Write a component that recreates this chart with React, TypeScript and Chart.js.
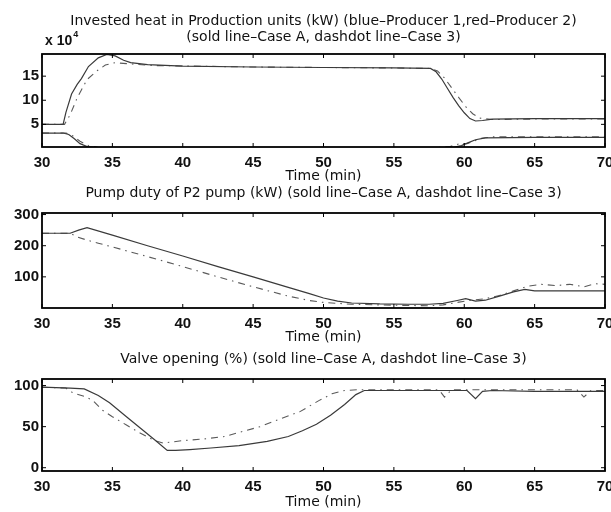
import React, { useEffect, useRef } from "react";
import { Chart, registerables } from "chart.js";

Chart.register(...registerables);

// ---------- shared axis ----------
const X_TICKS = [30, 35, 40, 45, 50, 55, 60, 65, 70];

// ---------- Panel 1: invested heat (x 10^4 kW) ----------
const HEAT_Y_TICKS = [5, 10, 15];
const heatP1CaseATime = [30, 31.5, 31.7, 32.1, 32.5, 32.8, 33.3, 34.0, 34.6, 35.2, 35.8, 36.3, 37.5, 40, 45, 50, 55, 57.6, 58.0, 58.4, 58.8, 59.2, 59.6, 60.0, 60.4, 60.8, 61.3, 62.0, 65, 70];
const heatP1CaseA = [5.0, 5.0, 7.5, 11.3, 13.3, 14.5, 17.0, 18.8, 19.5, 19.2, 18.3, 17.8, 17.4, 17.1, 16.9, 16.8, 16.7, 16.6, 15.9, 14.4, 12.5, 10.6, 8.9, 7.4, 6.2, 5.7, 5.8, 6.1, 6.2, 6.2];
const heatP1Case3Time = [30, 31.6, 32.0, 32.5, 33.2, 33.9, 34.5, 35.2, 36.0, 38, 45, 50, 55, 57.6, 58.1, 58.6, 59.1, 59.6, 60.1, 60.6, 61.1, 62.0, 65, 70];
const heatP1Case3 = [5.0, 5.0, 7.0, 10.5, 14.3, 16.1, 17.3, 17.8, 17.6, 17.2, 16.9, 16.8, 16.7, 16.6, 16.1, 14.6, 12.6, 10.6, 8.7, 7.2, 6.3, 6.0, 6.1, 6.1];
const heatP2CaseATime = [30, 31.5, 31.9, 32.3, 32.7, 33.2, 34, 45, 58.5, 59.3, 59.8, 60.3, 60.8, 61.5, 65, 70];
const heatP2CaseA = [3.2, 3.2, 2.9, 2.0, 1.0, 0.4, 0.2, 0.2, 0.2, 0.3, 0.6, 1.2, 1.8, 2.2, 2.3, 2.3];
const heatP2Case3Time = [30, 31.7, 32.2, 32.7, 33.3, 34, 58, 59, 59.7, 60.2, 60.6, 61.2, 62, 70];
const heatP2Case3 = [3.2, 3.2, 2.6, 1.5, 0.6, 0.2, 0.2, 0.4, 1.0, 1.0, 1.4, 2.1, 2.4, 2.4];

// ---------- Panel 2: pump duty of P2 pump (kW) ----------
const PUMP_Y_TICKS = [100, 200, 300];
const pumpCaseATime = [30, 32.0, 32.6, 33.2, 35, 37.5, 40, 42.5, 45, 47.5, 49, 50, 51, 52, 54, 56, 57.5, 58.5, 59.5, 60.1, 60.8, 61.5, 62.5, 63.5, 64.3, 65, 67, 70];
const pumpCaseA = [240, 240, 250, 258, 234, 200, 167, 133, 100, 66, 46, 32, 22, 16, 13, 12, 12, 15, 24, 30, 22, 25, 38, 52, 60, 55, 55, 55];
const pumpCase3Time = [30, 32.0, 32.5, 33.2, 34, 35, 37.5, 40, 42.5, 45, 47.5, 49, 50, 52, 55, 57.5, 58.5, 59.5, 60.5, 61.5, 62.5, 63.5, 64.5, 65.5, 66.5, 67.5, 68.5, 69.3, 70];
const pumpCase3 = [240, 240, 228, 218, 208, 196, 165, 133, 100, 68, 38, 24, 18, 12, 9, 7, 10, 18, 25, 30, 40, 55, 70, 76, 72, 76, 68, 78, 76];

// ---------- Panel 3: valve opening (%) ----------
const VALVE_Y_TICKS = [0, 50, 100];
const valveCaseATime = [30, 32.0, 33.0, 34.0, 34.8, 36, 37, 38, 38.9, 39.5, 40.5, 42, 44, 46, 47.5, 48.5, 49.5, 50.5, 51.5, 52.3, 52.9, 55, 60.2, 60.8, 61.3, 62, 65, 70];
const valveCaseA = [98, 97, 96, 88, 79, 62, 48, 34, 21, 21, 22, 24, 27, 32, 38, 45, 53, 64, 77, 89, 94, 94, 94, 84, 93, 94, 93, 93];
const valveCase3Time = [30, 31.7, 32.2, 33.0, 33.6, 34.3, 35, 36, 37, 38, 38.6, 40, 41.5, 43, 44, 45.5, 47, 48.3, 49.7, 50.6, 51.5, 52.5, 58.2, 58.6, 59.1, 68.0, 68.5, 69.0, 70];
const valveCase3 = [98, 97, 91, 87, 82, 70, 62, 52, 42, 33, 30, 33, 35, 38, 43, 50, 60, 68, 82, 90, 94, 95, 95, 86, 95, 95, 86, 94, 94];

const TICK_FONT = "'Liberation Sans', Arial, Helvetica, sans-serif";
const TEXT_FONT = "'DejaVu Sans', 'Liberation Sans', sans-serif";
const W = 611;
const H = 512;
const PLOT_LEFT = 42;
const PLOT_RIGHT = 605;

const xy = (ts: number[], vs: number[]) => ts.map((t, i) => ({ x: t, y: vs[i] }));

const solid = (label: string, ts: number[], vs: number[]) => ({
  label,
  data: xy(ts, vs),
  borderColor: "#3a3a3a",
  borderWidth: 1.2,
  pointRadius: 0,
  fill: false,
  tension: 0,
});
const dashdot = (label: string, ts: number[], vs: number[]) => ({
  label,
  data: xy(ts, vs),
  borderColor: "#5a5a5a",
  borderWidth: 1.1,
  borderDash: [7, 5, 1.5, 5],
  pointRadius: 0,
  fill: false,
  tension: 0,
});

const framePlugin = {
  id: "frame",
  afterDraw(chart: any, _args: any, opts: any) {
    const ctx = chart.ctx;
    const { left, right, top, bottom } = chart.chartArea;
    const xs = chart.scales.x;
    const ys = chart.scales.y;
    ctx.save();
    ctx.strokeStyle = "#000";
    ctx.lineWidth = 1.8;
    ctx.strokeRect(left, top, right - left, bottom - top);
    ctx.lineWidth = 1;
    const tl = 4;
    ctx.beginPath();
    X_TICKS.forEach((v) => {
      const px = xs.getPixelForValue(v);
      ctx.moveTo(px, bottom);
      ctx.lineTo(px, bottom - tl);
      ctx.moveTo(px, top);
      ctx.lineTo(px, top + tl);
    });
    (opts.yTicks || []).forEach((v: number) => {
      const py = ys.getPixelForValue(v);
      ctx.moveTo(left, py);
      ctx.lineTo(left + tl, py);
      ctx.moveTo(right, py);
      ctx.lineTo(right - tl, py);
    });
    ctx.stroke();

    ctx.fillStyle = "#111";
    ctx.textAlign = "center";
    ctx.textBaseline = "middle";
    ctx.font = `14px ${TEXT_FONT}`;
    const cx = (left + right) / 2;
    (opts.titles || []).forEach((t: { text: string; y: number }) => {
      ctx.fillText(t.text, cx, t.y);
    });
    if (opts.exponent) {
      ctx.textAlign = "left";
      ctx.font = `bold 14px ${TICK_FONT}`;
      ctx.fillText("x 10", 45, 41);
      const w = ctx.measureText("x 10").width;
      ctx.font = `bold 9px ${TICK_FONT}`;
      ctx.fillText("4", 45 + w + 1, 35);
    }
    ctx.restore();
  },
};

type Spec = {
  datasets: any[];
  yMin: number;
  yMax: number;
  yTicks: number[];
  titles: { text: string; y: number }[];
  exponent?: boolean;
  plotTop: number;
  plotBottom: number;
  axisBottom: number;
};

function makeConfig(s: Spec): any {
  return {
    type: "line",
    data: { datasets: s.datasets },
    plugins: [framePlugin],
    options: {
      animation: false,
      responsive: false,
      devicePixelRatio: 1,
      layout: { padding: { top: s.plotTop, bottom: H - s.axisBottom, left: 0, right: W - PLOT_RIGHT } },
      plugins: {
        legend: { display: false },
        title: { display: false },
        tooltip: { enabled: false },
        frame: { titles: s.titles, exponent: s.exponent, yTicks: s.yTicks },
      },
      scales: {
        x: {
          type: "linear",
          min: 30,
          max: 70,
          afterBuildTicks: (sc: any) => {
            sc.ticks = X_TICKS.map((v) => ({ value: v }));
          },
          afterFit: (sc: any) => {
            sc.height = s.axisBottom - s.plotBottom;
            sc.paddingLeft = 0;
            sc.paddingRight = 0;
          },
          grid: { display: false, drawTicks: false },
          border: { display: false },
          ticks: {
            padding: 7,
            color: "#111",
            maxRotation: 0,
            autoSkip: false,
            font: { family: TICK_FONT, size: 15, weight: "bold" },
          },
          title: {
            display: true,
            text: "Time (min)",
            color: "#111",
            padding: { top: 0, bottom: 0 },
            font: { family: TEXT_FONT, size: 14 },
          },
        },
        y: {
          type: "linear",
          min: s.yMin,
          max: s.yMax,
          afterBuildTicks: (sc: any) => {
            sc.ticks = s.yTicks.map((v) => ({ value: v }));
          },
          afterFit: (sc: any) => {
            sc.width = PLOT_LEFT;
            sc.paddingTop = 0;
            sc.paddingBottom = 0;
          },
          grid: { display: false, drawTicks: false },
          border: { display: false },
          ticks: {
            padding: 3,
            color: "#111",
            font: { family: TICK_FONT, size: 15, weight: "bold" },
          },
        },
      },
    },
  };
}

const specs: Spec[] = [
  {
    datasets: [
      solid("Producer 1 – Case A", heatP1CaseATime, heatP1CaseA),
      dashdot("Producer 1 – Case 3", heatP1Case3Time, heatP1Case3),
      solid("Producer 2 – Case A", heatP2CaseATime, heatP2CaseA),
      dashdot("Producer 2 – Case 3", heatP2Case3Time, heatP2Case3),
    ],
    yMin: 0.3,
    yMax: 19.6,
    yTicks: HEAT_Y_TICKS,
    titles: [
      { text: "Invested heat in Production units (kW) (blue–Producer 1,red–Producer 2)", y: 21 },
      { text: "(sold line–Case A, dashdot line–Case 3)", y: 37 },
    ],
    exponent: true,
    plotTop: 54,
    plotBottom: 147,
    axisBottom: 185,
  },
  {
    datasets: [
      solid("Case A", pumpCaseATime, pumpCaseA),
      dashdot("Case 3", pumpCase3Time, pumpCase3),
    ],
    yMin: 0,
    yMax: 305,
    yTicks: PUMP_Y_TICKS,
    titles: [{ text: "Pump duty of P2 pump (kW) (sold line–Case A, dashdot line–Case 3)", y: 193 }],
    plotTop: 213,
    plotBottom: 308,
    axisBottom: 346,
  },
  {
    datasets: [
      solid("Case A", valveCaseATime, valveCaseA),
      dashdot("Case 3", valveCase3Time, valveCase3),
    ],
    yMin: -4,
    yMax: 108,
    yTicks: VALVE_Y_TICKS,
    titles: [{ text: "Valve opening (%) (sold line–Case A, dashdot line–Case 3)", y: 359 }],
    plotTop: 379,
    plotBottom: 471,
    axisBottom: 511,
  },
];

export default function App() {
  const r0 = useRef<HTMLCanvasElement>(null);
  const r1 = useRef<HTMLCanvasElement>(null);
  const r2 = useRef<HTMLCanvasElement>(null);

  useEffect(() => {
    const refs = [r0, r1, r2];
    const charts = refs.map((r, i) => new Chart(r.current as HTMLCanvasElement, makeConfig(specs[i])));
    return () => charts.forEach((c) => c.destroy());
  }, []);

  const cs: React.CSSProperties = { position: "absolute", left: 0, top: 0, width: W, height: H };
  return (
    <div style={{ position: "absolute", left: 0, top: 0, width: W, height: H, background: "#fff" }}>
      <canvas ref={r0} width={W} height={H} style={cs} />
      <canvas ref={r1} width={W} height={H} style={cs} />
      <canvas ref={r2} width={W} height={H} style={cs} />
    </div>
  );
}
